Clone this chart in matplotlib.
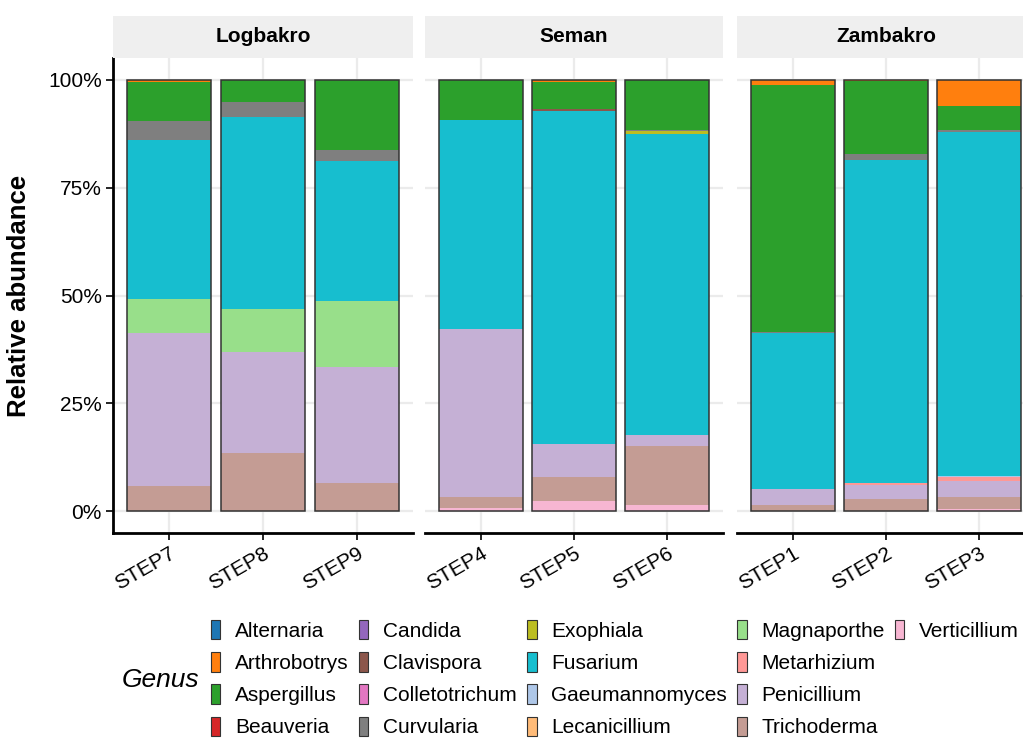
import numpy as np
import matplotlib
matplotlib.use('Agg')
import matplotlib.pyplot as plt
from matplotlib.patches import Patch

plt.rcParams['font.family'] = ['Liberation Sans', 'DejaVu Sans']

# ========== 数据 ==========
sites = ['Logbakro', 'Seman', 'Zambakro']
samples = {
    'Logbakro': ['STEP7', 'STEP8', 'STEP9'],
    'Seman': ['STEP4', 'STEP5', 'STEP6'],
    'Zambakro': ['STEP1', 'STEP2', 'STEP3'],
}
genera = ['Alternaria', 'Arthrobotrys', 'Aspergillus', 'Beauveria', 'Candida',
          'Clavispora', 'Colletotrichum', 'Curvularia', 'Exophiala', 'Fusarium',
          'Gaeumannomyces', 'Lecanicillium', 'Magnaporthe', 'Metarhizium',
          'Penicillium', 'Trichoderma', 'Verticillium']
genus_colors = ['#1f77b4', '#ff7f0e', '#2ca02c', '#d62728', '#9467bd',
                '#8c564b', '#e377c2', '#7f7f7f', '#bcbd22', '#17becf',
                '#aec7e8', '#ffbb78', '#98df8a', '#ff9896',
                '#c5b0d5', '#c49c94', '#f7b6d2']

# 相对丰度 (%)，每个样本按 genera 顺序
abundance = {
    'STEP7': [0, 0.5, 9.2, 0, 0, 0, 0, 4.4, 0, 36.6, 0, 0, 8.0, 0, 35.45, 5.85, 0],
    'STEP8': [0, 0, 5.2, 0, 0, 0, 0, 3.5, 0, 44.5, 0, 0, 9.9, 0, 23.4, 13.5, 0],
    'STEP9': [0, 0, 16.2, 0, 0, 0, 0, 2.7, 0, 32.4, 0, 0, 15.2, 0, 26.9, 6.6, 0],
    'STEP4': [0, 0, 9.3, 0, 0, 0, 0, 0, 0, 48.5, 0, 0, 0, 0, 38.8, 2.55, 0.85],
    'STEP5': [0, 0.6, 6.3, 0, 0, 0.3, 0, 0, 0, 77.3, 0, 0, 0, 0, 7.6, 5.4, 2.5],
    'STEP6': [0, 0, 11.6, 0, 0, 0, 0, 0.3, 0.6, 69.9, 0, 0, 0, 0, 2.4, 13.8, 1.4],
    'STEP1': [0, 1.15, 57.35, 0, 0, 0, 0, 0.2, 0, 36.1, 0, 0, 0, 0, 3.8, 1.4, 0],
    'STEP2': [0, 0.3, 16.9, 0, 0, 0, 0, 1.5, 0, 74.7, 0, 0, 0, 0.4, 3.3, 2.9, 0],
    'STEP3': [0, 6.0, 5.6, 0, 0, 0, 0, 0.5, 0, 79.7, 0.3, 0, 0, 0.8, 3.7, 2.9, 0.5],
}
yticks = [0, 25, 50, 75, 100]
ytick_labels = ['0%', '25%', '50%', '75%', '100%']

# ========== 绘图 ==========
W, H = 1023, 739
fig = plt.figure(figsize=(W / 100, H / 100), dpi=100)

panel_px = [(113, 413), (425, 723), (737, 1035)]
top_px, bottom_px, strip_top = 58, 533, 16
grid_col = '#ebebeb'

for k, site in enumerate(sites):
    x0, x1 = panel_px[k]
    ax = fig.add_axes([x0 / W, 1 - bottom_px / H, (x1 - x0) / W, (bottom_px - top_px) / H])
    names = samples[site]
    xs = np.arange(len(names))
    # ggplot 风格: 第一个因子在顶部，从底部开始堆叠最后一个
    bottoms = np.zeros(len(names))
    for gi in range(len(genera) - 1, -1, -1):
        vals = np.array([abundance[n][gi] for n in names])
        ax.bar(xs, vals, width=0.9, bottom=bottoms, color=genus_colors[gi],
               edgecolor='none', linewidth=0, zorder=2)
        bottoms += vals
    ax.bar(xs, bottoms, width=0.9, fill=False, edgecolor='#333333', linewidth=1.1, zorder=3)

    ax.set_xlim(-0.6, len(names) - 0.4)
    ax.set_ylim(-5, 105)
    ax.set_yticks(yticks)
    ax.set_xticks(xs)
    ax.set_xticklabels(names, rotation=30, ha='right', rotation_mode='anchor', fontsize=15)
    ax.grid(True, color=grid_col, linewidth=1.6, zorder=0)
    ax.set_axisbelow(True)
    for s in ['top', 'right']:
        ax.spines[s].set_visible(False)
    ax.spines['bottom'].set_linewidth(2)
    ax.spines['left'].set_linewidth(2)
    ax.tick_params(axis='x', length=5, width=1.2, pad=3)
    if k == 0:
        ax.set_yticklabels(ytick_labels, fontsize=15)
        ax.tick_params(axis='y', length=5, width=1.2, pad=3)
        ax.set_ylabel('Relative abundance', fontsize=18.5, fontweight='bold', labelpad=12)
    else:
        ax.spines['left'].set_visible(False)
        ax.tick_params(axis='y', length=0, labelleft=False)

    # 分面标题条
    sax = fig.add_axes([x0 / W, 1 - top_px / H, (x1 - x0) / W, (top_px - strip_top) / H])
    sax.set_facecolor('#efefef')
    sax.set_xticks([])
    sax.set_yticks([])
    for s in sax.spines.values():
        s.set_visible(False)
    sax.text(0.5, 0.5, site, ha='center', va='center', fontsize=15, fontweight='bold',
             transform=sax.transAxes)

# 图例: 5 列按列填充，最后一列补空白
handles = [Patch(facecolor=c, edgecolor='#333333', linewidth=0.8) for c in genus_colors]
labels = list(genera)
for _ in range(3):
    handles.append(Patch(facecolor='none', edgecolor='none'))
    labels.append('')
leg = fig.legend(handles, labels, ncol=5, loc='upper left', bbox_to_anchor=(211 / W, 1 - 620 / H),
                 frameon=False, fontsize=15, handlelength=0.45, handleheight=1.05,
                 handletextpad=0.7, columnspacing=0.5, labelspacing=0.55, borderaxespad=0,
                 borderpad=0)
fig.text(122 / W, 1 - 680 / H, 'Genus', fontsize=19, style='italic', ha='left', va='center')

fig.savefig('out.png', dpi=100)
